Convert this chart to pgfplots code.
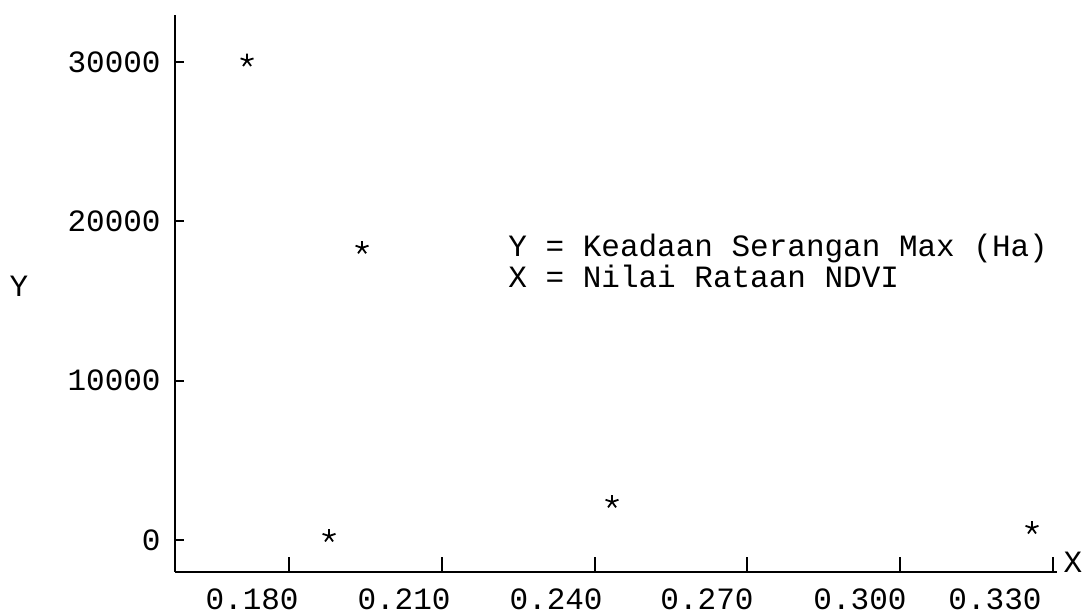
\documentclass[border=0pt]{standalone}
\usepackage{fontspec}
\setmainfont{Liberation Mono}
\setmonofont{Liberation Mono}
\usepackage{pgfplots}
\pgfplotsset{compat=1.18}
\begin{document}
\begin{tikzpicture}
\useasboundingbox (-87.5pt,-21pt) rectangle (456.5pt,286pt);
\begin{axis}[
  at={(0,0)}, anchor=south west,
  scale only axis, width=441pt, height=278.5pt,
  xmin=0.1576, xmax=0.3308, ymin=-2013, ymax=32956,
  clip=false,
  axis x line*=bottom, axis y line*=left,
  axis line style={-, line width=1pt},
  tick align=inside, major tick length=7.5pt,
  tick style={line width=0.9pt, black},
  xtick={0.18,0.21,0.24,0.27,0.30,0.33},
  xticklabels={,,,,,},
  extra x ticks={0.17274,0.20258,0.23243,0.26207,0.29211,0.31862},
  extra x tick labels={0.180,0.210,0.240,0.270,0.300,0.330},
  extra x tick style={major tick length=0pt,
    xticklabel style={anchor=center, inner sep=0pt, yshift=-13.5pt, font=\fontsize{15.5}{17}\selectfont}},
  ytick=\empty,
  extra y ticks={0,10000,20000,30000},
  extra y tick labels={0,10000,20000,30000},
  extra y tick style={major tick length=4.5pt,
    yticklabel style={anchor=east, inner sep=0pt, xshift=-7pt, font=\fontsize{15.5}{17}\selectfont}},
  scaled y ticks=false,
  ylabel={Y},
  ylabel style={rotate=-90, at={(axis description cs:-0.1769,0.5135)}, anchor=center, font=\fontsize{15.5}{17}\selectfont},
  xlabel={X},
  xlabel style={at={(axis description cs:1.0181,0.018)}, anchor=center, font=\fontsize{15.5}{17}\selectfont},
]
\addplot[only marks, mark=star, mark size=3.4pt, mark options={line width=0.9pt, black}]
  coordinates {(0.17175,30100) (0.19433,18340) (0.18785,250) (0.24342,2390) (0.32589,750)};
\node[anchor=west, align=left, inner sep=0pt, font=\fontsize{15.5}{14}\selectfont]
  at (axis cs:0.2230,17520) {Y = Keadaan Serangan Max (Ha)\\X = Nilai Rataan NDVI};
\end{axis}
\end{tikzpicture}
\end{document}
